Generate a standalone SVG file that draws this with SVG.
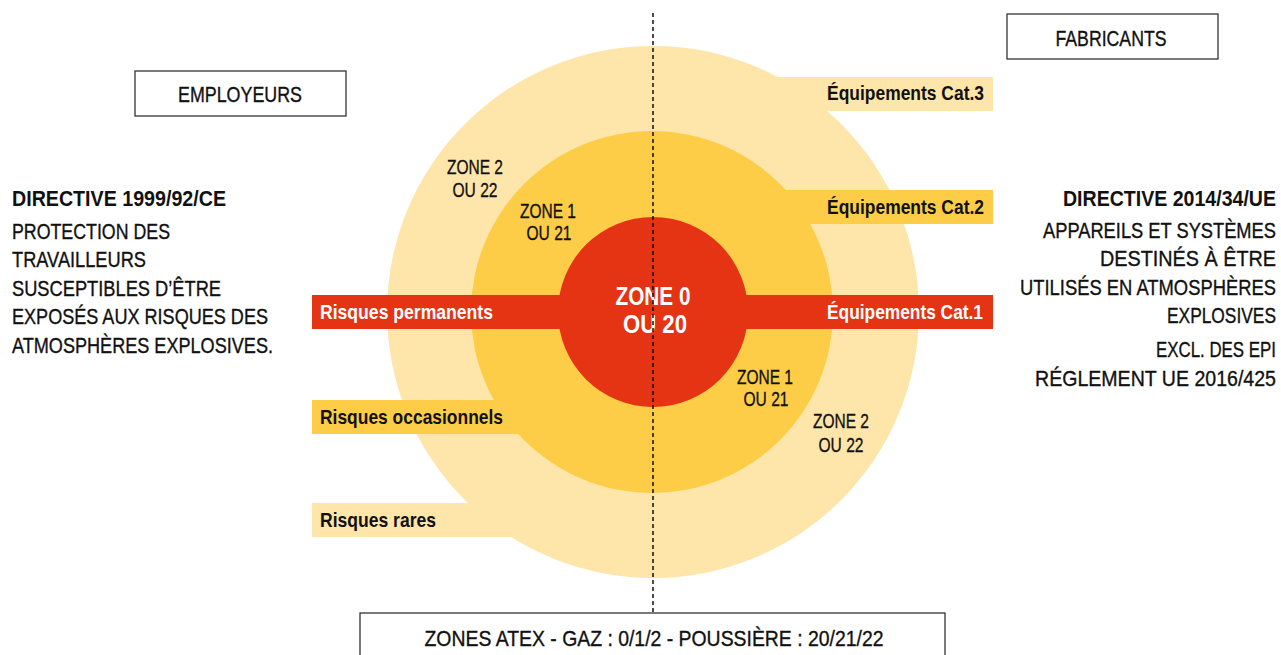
<svg xmlns="http://www.w3.org/2000/svg" width="1281" height="655" viewBox="0 0 1281 655">
<style>
text{font-family:"Liberation Sans Narrow","Liberation Sans",Arial,sans-serif;fill:#111}
.r{stroke:#111;stroke-width:0.35}
.b{font-weight:bold}
.w{fill:#fff}
.box{fill:#fff;stroke:#333;stroke-width:1.3}
.light{fill:#FEE5A9}
.mid{fill:#FDCD47}
.red{fill:#E53414}
.s22{font-size:22px}
.s21{font-size:21px}
.mid-t{text-anchor:middle}
.end{text-anchor:end}
</style>
<rect width="1281" height="655" fill="#fff"/>
<g id="zone2">
<circle class="light" cx="653" cy="312" r="266"/>
<rect class="light" x="312" y="503" width="200" height="34"/>
<rect class="light" x="700" y="77" width="293" height="34"/>
</g>
<g id="zone1">
<circle class="mid" cx="652" cy="312" r="181"/>
<rect class="mid" x="312" y="400" width="250" height="34"/>
<rect class="mid" x="700" y="190" width="293" height="34"/>
</g>
<g id="zone0">
<circle class="red" cx="653" cy="312" r="95"/>
<rect class="red" x="312" y="295" width="681" height="34"/>
</g>
<g id="labels-bars">
<text class="b w s21" x="320" y="319" textLength="173" lengthAdjust="spacingAndGlyphs">Risques permanents</text>
<text class="b s21" x="320" y="424" textLength="183" lengthAdjust="spacingAndGlyphs">Risques occasionnels</text>
<text class="b s21" x="320" y="527" textLength="116" lengthAdjust="spacingAndGlyphs">Risques rares</text>
<text class="b s21 end" x="984" y="100" textLength="157" lengthAdjust="spacingAndGlyphs">Équipements Cat.3</text>
<text class="b s21 end" x="984" y="214" textLength="157" lengthAdjust="spacingAndGlyphs">Équipements Cat.2</text>
<text class="b w s21 end" x="983" y="319" textLength="156" lengthAdjust="spacingAndGlyphs">Équipements Cat.1</text>
</g>
<g id="labels-zones">
<text class="r s21 mid-t" x="475" y="174" textLength="56" lengthAdjust="spacingAndGlyphs">ZONE 2</text>
<text class="r s21 mid-t" x="475" y="197" textLength="45" lengthAdjust="spacingAndGlyphs">OU 22</text>
<text class="r s21 mid-t" x="548" y="218" textLength="56" lengthAdjust="spacingAndGlyphs">ZONE 1</text>
<text class="r s21 mid-t" x="549" y="240" textLength="45" lengthAdjust="spacingAndGlyphs">OU 21</text>
<text class="r s21 mid-t" x="765" y="384" textLength="56" lengthAdjust="spacingAndGlyphs">ZONE 1</text>
<text class="r s21 mid-t" x="766" y="406" textLength="45" lengthAdjust="spacingAndGlyphs">OU 21</text>
<text class="r s21 mid-t" x="841" y="428" textLength="56" lengthAdjust="spacingAndGlyphs">ZONE 2</text>
<text class="r s21 mid-t" x="841" y="452" textLength="45" lengthAdjust="spacingAndGlyphs">OU 22</text>
<text class="b w mid-t" style="font-size:26px" x="653" y="305" textLength="75" lengthAdjust="spacingAndGlyphs">ZONE 0</text>
<text class="b w mid-t" style="font-size:26px" x="655" y="333" textLength="64" lengthAdjust="spacingAndGlyphs">OU 20</text>
</g>
<g id="employeurs">
<rect class="box" x="135" y="71" width="211" height="45"/>
<text class="r s22 mid-t" x="240" y="102" textLength="124" lengthAdjust="spacingAndGlyphs">EMPLOYEURS</text>
</g>
<g id="fabricants">
<rect class="box" x="1007" y="14" width="211" height="45"/>
<text class="r s22 mid-t" x="1111" y="46" textLength="111" lengthAdjust="spacingAndGlyphs">FABRICANTS</text>
</g>
<g id="directive-1999">
<text class="b s22" x="12" y="206" textLength="214" lengthAdjust="spacingAndGlyphs">DIRECTIVE 1999/92/CE</text>
<text class="r s22" x="12" y="239" textLength="158" lengthAdjust="spacingAndGlyphs">PROTECTION DES</text>
<text class="r s22" x="12" y="267" textLength="134" lengthAdjust="spacingAndGlyphs">TRAVAILLEURS</text>
<text class="r s22" x="12" y="296" textLength="209" lengthAdjust="spacingAndGlyphs">SUSCEPTIBLES D’ÊTRE</text>
<text class="r s22" x="12" y="324" textLength="256" lengthAdjust="spacingAndGlyphs">EXPOSÉS AUX RISQUES DES</text>
<text class="r s22" x="12" y="353" textLength="261" lengthAdjust="spacingAndGlyphs">ATMOSPHÈRES EXPLOSIVES.</text>
</g>
<g id="directive-2014">
<text class="b s22 end" x="1276" y="206" textLength="213" lengthAdjust="spacingAndGlyphs">DIRECTIVE 2014/34/UE</text>
<text class="r s22 end" x="1276" y="238" textLength="233" lengthAdjust="spacingAndGlyphs">APPAREILS ET SYSTÈMES</text>
<text class="r s22 end" x="1276" y="266" textLength="176" lengthAdjust="spacingAndGlyphs">DESTINÉS À ÊTRE</text>
<text class="r s22 end" x="1276" y="295" textLength="256" lengthAdjust="spacingAndGlyphs">UTILISÉS EN ATMOSPHÈRES</text>
<text class="r s22 end" x="1276" y="323" textLength="109" lengthAdjust="spacingAndGlyphs">EXPLOSIVES</text>
<text class="r s22 end" x="1276" y="357" textLength="120" lengthAdjust="spacingAndGlyphs">EXCL. DES EPI</text>
<text class="r s22 end" x="1276" y="386" textLength="241" lengthAdjust="spacingAndGlyphs">RÉGLEMENT UE 2016/425</text>
</g>
<g id="zones-atex">
<rect class="box" x="360" y="613" width="585" height="60"/>
<text class="r s22 mid-t" x="654" y="646" textLength="459" lengthAdjust="spacingAndGlyphs">ZONES ATEX - GAZ : 0/1/2 - POUSSIÈRE : 20/21/22</text>
</g>
<g id="connectors">
<line x1="653" y1="13" x2="653" y2="613" stroke="#111" stroke-width="1.5" stroke-dasharray="4 3"/>
</g>
</svg>
